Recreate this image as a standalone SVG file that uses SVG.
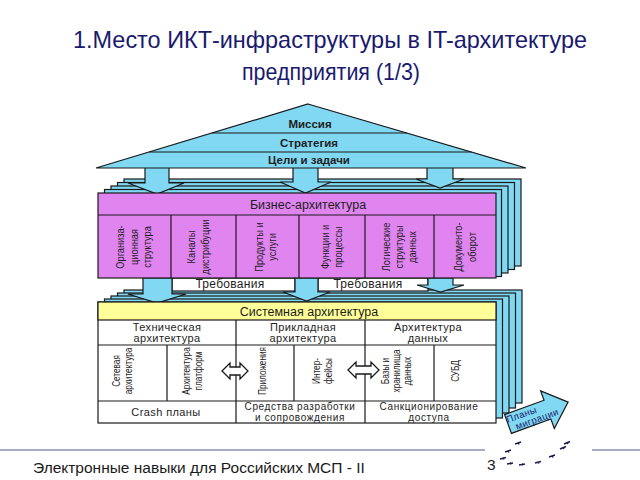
<svg xmlns="http://www.w3.org/2000/svg" width="640" height="480" viewBox="0 0 640 480">
<style>
.cy{fill:#80d8f2;stroke:#1a1a1a;stroke-width:1.2}
.mg{fill:#e085f0;stroke:#1a1a1a;stroke-width:1.2}
.wh{fill:#fff;stroke:#1a1a1a;stroke-width:1.2}
.ye{fill:#ffff99;stroke:#1a1a1a;stroke-width:1.2}
.ln{stroke:#1a1a1a;stroke-width:1.2;fill:none}
text{font-family:"Liberation Sans",Arial,sans-serif;fill:#1e1e1e}
.ttl{font-size:24px;fill:#1a1a6e;text-anchor:middle}
.rf{font-size:11.5px;font-weight:bold;text-anchor:middle;fill:#222}
.hd{font-size:12.5px;text-anchor:middle}
.v{font-size:10.5px;text-anchor:middle}
.vs{font-size:10px;text-anchor:middle}
.h{font-size:11px;text-anchor:middle;letter-spacing:0.4px}
.h2{font-size:10px;text-anchor:middle;letter-spacing:0.6px}
.rq{font-size:12px;text-anchor:middle;letter-spacing:0.3px}
.mi{font-size:9.5px;text-anchor:middle;fill:#1a1a6e;letter-spacing:0.4px}
.ft{font-size:15.5px;fill:#1a1a1a}
.fp{stroke:#1a1a50;stroke-width:1.4;fill:none}
.dbl{fill:#fff;stroke:#1a1a1a;stroke-width:1.3}
</style>

<g id="title">
<text class="ttl" x="330" y="48" textLength="514" lengthAdjust="spacingAndGlyphs">1.Место ИКТ-инфраструктуры в IT-архитектуре</text>
<text class="ttl" x="331" y="80" textLength="178" lengthAdjust="spacingAndGlyphs">предприятия (1/3)</text>
</g>

<g id="business-stack">
<rect class="cy" x="124" y="179" width="397" height="87"/>
<rect class="cy" x="117.5" y="182.5" width="397" height="87"/>
<rect class="cy" x="111" y="186" width="397" height="87"/>
<rect class="cy" x="104.5" y="189.5" width="397" height="87"/>
</g>

<g id="system-stack">
<rect class="cy" x="124" y="290" width="398" height="113"/>
<rect class="cy" x="117.5" y="293" width="398" height="115"/>
<rect class="cy" x="111" y="296" width="398" height="117"/>
<rect class="cy" x="104.5" y="299" width="398" height="119"/>
</g>

<g id="requirements">
<rect class="wh" x="172" y="278" width="123" height="13"/>
<text class="rq" x="230" y="288">Требования</text>
<rect class="wh" x="318" y="278" width="110" height="13"/>
<text class="rq" x="368" y="288">Требования</text>
</g>

<g id="connectors">
<polygon class="cy" points="145,166 169,166 169,183 184,183 157,194 128,183 145,183"/>
<polygon class="cy" points="293,166 318,166 318,182 331,182 305.5,193 280,182 293,182"/>
<polygon class="cy" points="427,166 453,166 453,179 464,179 440,188 416,179 427,179"/>
<polygon class="cy" points="143,278 172,278 172,294 186,294 157,303 128,294 143,294"/>
<polygon class="cy" points="295,278 318,278 318,292 330,292 306.5,301 283,292 295,292"/>
<polygon class="cy" points="428,278 453,278 453,285 464,285 440.5,292 417,285 428,285"/>
</g>

<g id="roof">
<polygon class="cy" points="308,104 526,168 96,168"/>
<line class="ln" x1="212" y1="133" x2="407" y2="133"/>
<line class="ln" x1="149" y1="152" x2="471.5" y2="152"/>
<text class="rf" x="310" y="128">Миссия</text>
<text class="rf" x="309" y="147">Стратегия</text>
<text class="rf" x="309" y="164">Цели и задачи</text>
</g>

<g id="business">
<rect class="mg" x="98" y="193" width="398" height="85"/>
<line class="ln" x1="98" y1="215" x2="496" y2="215"/>
<path class="ln" d="M171 215V278M236 215V278M299 215V278M365 215V278M434 215V278"/>
<text class="hd" x="308" y="209">Бизнес-архитектура</text>
<text class="v" transform="translate(134,247) rotate(-90) scale(0.88,1)"><tspan x="0" y="-10">Организа-</tspan><tspan x="0" y="3.5">ционная</tspan><tspan x="0" y="17">структура</tspan></text>
<text class="v" transform="translate(199,247) rotate(-90) scale(0.88,1)"><tspan x="0" y="-4.5">Каналы</tspan><tspan x="0" y="10.5">дистрибуции</tspan></text>
<text class="v" transform="translate(266,247) rotate(-90) scale(0.88,1)"><tspan x="0" y="-3.5">Продукты и</tspan><tspan x="0" y="10.5">услуги</tspan></text>
<text class="v" transform="translate(332,247) rotate(-90) scale(0.88,1)"><tspan x="0" y="-3.5">Функции и</tspan><tspan x="0" y="10.5">процессы</tspan></text>
<text class="v" transform="translate(399.5,247) rotate(-90) scale(0.88,1)"><tspan x="0" y="-10">Логические</tspan><tspan x="0" y="3.5">структуры</tspan><tspan x="0" y="17">данных</tspan></text>
<text class="v" transform="translate(465.5,247) rotate(-90) scale(0.88,1)"><tspan x="0" y="-3.5">Документо-</tspan><tspan x="0" y="10.5">оборот</tspan></text>
</g>

<g id="system">
<rect class="wh" x="98" y="302" width="398" height="121"/>
<rect class="ye" x="98" y="302" width="398" height="18"/>
<path class="ln" d="M98 345H496M98 401H496M236 320V423M365 320V423M167 345V401M294 345V401M434 345V401"/>
<text class="hd" x="309" y="316">Системная архитектура</text>
<text class="h" x="167" y="331">Техническая</text>
<text class="h" x="167" y="342">архитектура</text>
<text class="h" x="303" y="331">Прикладная</text>
<text class="h" x="303" y="342">архитектура</text>
<text class="h" x="428" y="331">Архитектура</text>
<text class="h" x="428" y="342">данных</text>
<text class="vs" transform="translate(132,371) rotate(-90) scale(0.82,1)"><tspan x="0" y="-12.5">Сетевая</tspan><tspan x="0" y="-0.5">архитектура</tspan></text>
<text class="vs" transform="translate(201,371) rotate(-90) scale(0.82,1)"><tspan x="0" y="-11">Архитектура</tspan><tspan x="0" y="1">платформ</tspan></text>
<text class="vs" transform="translate(265,371) rotate(-90) scale(0.82,1)"><tspan x="0" y="1">Приложения</tspan></text>
<text class="vs" transform="translate(329.5,371) rotate(-90) scale(0.82,1)"><tspan x="0" y="-10">Интер-</tspan><tspan x="0" y="2">фейсы</tspan></text>
<text class="vs" transform="translate(399.5,371) rotate(-90) scale(0.82,1)"><tspan x="0" y="-11">Базы и</tspan><tspan x="0" y="0.5">хранилища</tspan><tspan x="0" y="11.5">данных</tspan></text>
<text class="vs" transform="translate(465.5,371) rotate(-90) scale(0.82,1)"><tspan x="0" y="-7">СУБД</tspan></text>
<text class="h" x="166" y="415.5">Crash планы</text>
<text class="h2" x="300" y="410">Средства разработки</text>
<text class="h2" x="300" y="420.5">и сопровождения</text>
<text class="h2" x="429" y="410">Санкционирование</text>
<text class="h2" x="429" y="420.5">доступа</text>
</g>

<g id="internal-connectors">
<polygon class="dbl" points="222,371 230,363 230,367 240,367 240,363 248,371 240,379 240,375 230,375 230,379"/>
<polygon class="dbl" points="348,370 356,362 356,366 371,366 371,362 379,370 371,378 371,374 356,374 356,378"/>
</g>

<g id="migration" transform="translate(508,424) rotate(-20)">
<polygon class="cy" points="0,-10 42,-10 42,-20 64,0 42,20 42,10 0,10"/>
<text class="mi" x="16" y="-1">Планы</text>
<text class="mi" x="29" y="8.5">миграции</text>
</g>

<g id="footprints" class="fp">
<path d="M515 444l6-2M518 442.5l1 2"/>
<path d="M505 452l6-2M508 450.5l1 2"/>
<path d="M500 459l6-1.5M503 457.5l1 2"/>
<path d="M507 464l6-1M510 462.5l1 2"/>
<path d="M519 465l6-1M522 463.5l1 2"/>
<path d="M535 463l6-1.5M538 461.5l1 2"/>
<path d="M549 457l6-2M552 455.5l1 2"/>
<path d="M560 449l6-2.5M563 447l1 2"/>
<path d="M564 444l6-2.5M567 442l1 2"/>
</g>

<g id="footer">
<line x1="0" y1="450" x2="485" y2="450" stroke="#8a90b0" stroke-width="1.5"/>
<line x1="592" y1="450" x2="640" y2="450" stroke="#8a90b0" stroke-width="1.5"/>
<text class="ft" x="33" y="473">Электронные навыки для Российских МСП - II</text>
<text class="ft" x="487" y="470">3</text>
</g>
</svg>
